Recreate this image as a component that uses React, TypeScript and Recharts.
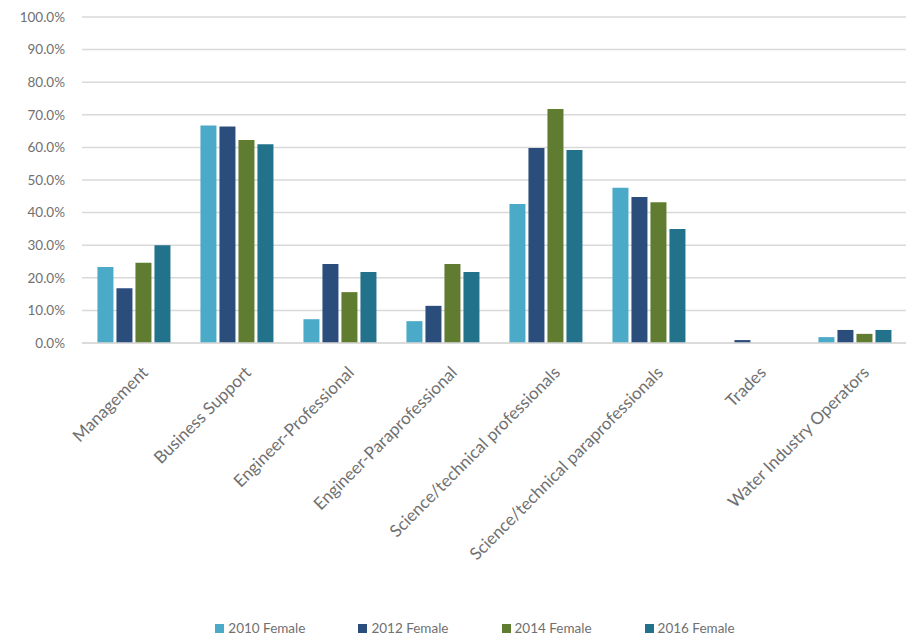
import React from 'react'
import { BarChart, Bar, XAxis, YAxis, CartesianGrid, Legend } from 'recharts'

const categories = [
  'Management',
  'Business Support',
  'Engineer-Professional',
  'Engineer-Paraprofessional',
  'Science/technical professionals',
  'Science/technical paraprofessionals',
  'Trades',
  'Water Industry Operators',
]

const female2010 = [23.3, 66.7, 7.3, 6.7, 42.6, 47.6, 0, 1.8]
const female2012 = [16.8, 66.4, 24.2, 11.4, 59.8, 44.8, 0.9, 4.0]
const female2014 = [24.6, 62.3, 15.6, 24.2, 71.8, 43.2, 0, 2.8]
const female2016 = [30.0, 61.0, 21.8, 21.8, 59.2, 35.0, 0, 4.0]

const yTicks = [0, 10, 20, 30, 40, 50, 60, 70, 80, 90, 100]

const SERIES = [
  { key: 'f2010', name: '2010 Female', color: '#4aaac8' },
  { key: 'f2012', name: '2012 Female', color: '#2b4d7b' },
  { key: 'f2014', name: '2014 Female', color: '#607c31' },
  { key: 'f2016', name: '2016 Female', color: '#23728b' },
]

const data = categories.map((name, i) => ({
  name,
  f2010: female2010[i],
  f2012: female2012[i],
  f2014: female2014[i],
  f2016: female2016[i],
}))

const FONT = 'Lato, "Open Sans", sans-serif'
const TEXT = '#707070'

function XTick({ x, y, payload }: any) {
  return (
    <g transform={`translate(${x + 10},${y + 17})`}>
      <text
        transform="rotate(-45)"
        textAnchor="end"
        dy={8}
        fontSize={17}
        fontFamily={FONT}
        fill={TEXT}
      >
        {payload.value}
      </text>
    </g>
  )
}

function LegendContent() {
  return (
    <div
      style={{
        display: 'flex',
        justifyContent: 'center',
        gap: 53,
        fontFamily: FONT,
        fontSize: 13.5,
        color: TEXT,
        paddingLeft: 44,
      }}
    >
      {SERIES.map(s => (
        <div key={s.key} style={{ display: 'flex', alignItems: 'center', gap: 4 }}>
          <span style={{ width: 9, height: 9, background: s.color, display: 'inline-block' }} />
          <span>{s.name}</span>
        </div>
      ))}
    </div>
  )
}

export default function App() {
  return (
    <div style={{ position: 'absolute', left: 0, top: 0, background: '#fff' }}>
      <BarChart
        width={908}
        height={644}
        data={data}
        margin={{ top: 17, right: 2, left: 0, bottom: 0 }}
        barCategoryGap="15%"
        barGap={3}
      >
        <CartesianGrid vertical={false} stroke="#d9d9d9" strokeWidth={1.5} />
        <XAxis
          dataKey="name"
          interval={0}
          height={277}
          tick={<XTick />}
          tickLine={false}
          axisLine={{ stroke: '#d9d9d9', strokeWidth: 1.5 }}
        />
        <YAxis
          width={82}
          domain={[0, 100]}
          ticks={yTicks}
          tickFormatter={(v: number) => `${v.toFixed(1)}%`}
          tick={{ fontSize: 13.5, fontFamily: FONT, fill: TEXT }}
          tickLine={false}
          axisLine={false}
          tickMargin={11}
        />
        {SERIES.map(s => (
          <Bar key={s.key} dataKey={s.key} name={s.name} fill={s.color} isAnimationActive={false} />
        ))}
        <Legend verticalAlign="bottom" height={24} content={<LegendContent />} />
      </BarChart>
    </div>
  )
}
